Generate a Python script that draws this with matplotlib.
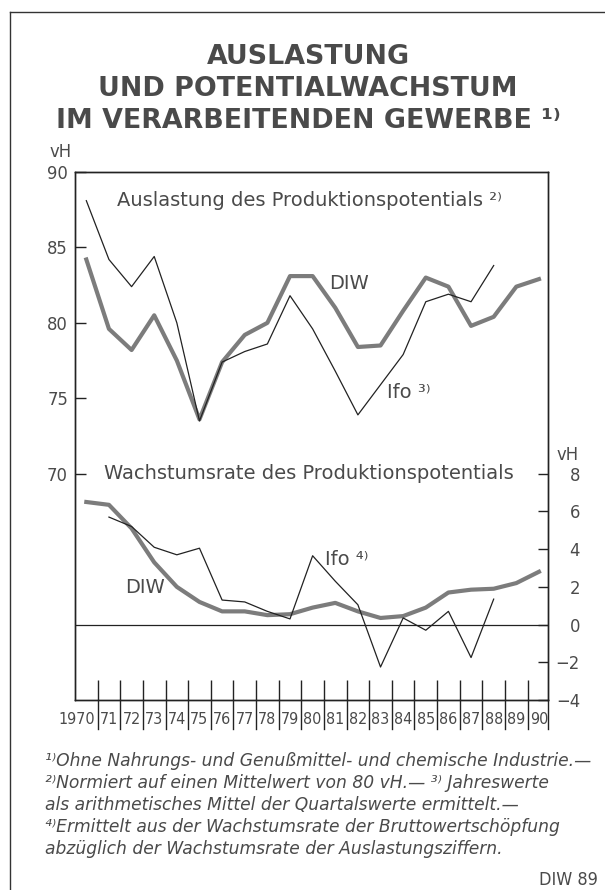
import os
import matplotlib
matplotlib.use('Agg')
import matplotlib.pyplot as plt
from matplotlib.lines import Line2D
from matplotlib import font_manager as fm
from matplotlib.font_manager import FontProperties

plt.rcParams.update({'font.size': 12, 'font.family': ['DejaVu Sans']})

# --- data (years plotted at mid-year) ---
years = list(range(1970, 1991))
year_labels = ['1970'] + ['%02d' % (y % 100) for y in years[1:]]

# Auslastung des Produktionspotentials (vH), 1970-1990
ausl_diw = [84.2, 79.6, 78.2, 80.5, 77.5, 73.6, 77.4, 79.2, 80.0, 83.1, 83.1,
            81.0, 78.4, 78.5, 80.8, 83.0, 82.4, 79.8, 80.4, 82.4, 82.9]
# Ifo, 1970-1988
ausl_ifo = [88.1, 84.2, 82.4, 84.4, 80.0, 73.5, 77.4, 78.1, 78.6, 81.8, 79.6,
            76.8, 73.9, 75.9, 77.9, 81.4, 81.9, 81.4, 83.8]

# Wachstumsrate des Produktionspotentials (vH)
wachs_diw = [6.5, 6.35, 5.1, 3.3, 2.0, 1.2, 0.7, 0.7, 0.5, 0.55, 0.9,
             1.15, 0.7, 0.35, 0.45, 0.9, 1.7, 1.85, 1.9, 2.2, 2.8]
# Ifo, 1971-1988
wachs_ifo_years = list(range(1971, 1989))
wachs_ifo = [5.7, 5.2, 4.1, 3.7, 4.05, 1.3, 1.2, 0.7, 0.3, 3.65,
             2.3, 1.05, -2.25, 0.35, -0.3, 0.7, -1.75, 1.35]

left_ticks = [70, 75, 80, 85, 90]
right_ticks = [-4, -2, 0, 2, 4, 6, 8]

txt = '#4a4a4a'
grey = '#7c7c7c'
ink = '#222222'


# look for a narrow sans font for the numbers (DIN-like look)
def narrow_font():
    prefs = ['dejavusanscondensed.ttf', 'liberationsansnarrow-regular.ttf',
             'robotocondensed-regular.ttf', 'notosans-extracondensed.ttf',
             'notosans-condensed.ttf', 'opensans_condensed-regular.ttf']
    found = {os.path.basename(f.fname).lower(): f.fname for f in fm.fontManager.ttflist}
    for p in prefs:
        if p in found:
            return FontProperties(fname=found[p])
    for name, path in found.items():
        if ('condensed' in name or 'narrow' in name) and 'bold' not in name \
                and 'italic' not in name and 'oblique' not in name and 'light' not in name:
            return FontProperties(fname=path)
    return FontProperties(family='DejaVu Sans')


nfont = narrow_font()

fig = plt.figure(figsize=(6.05, 8.9), dpi=100)
W, H = 605.0, 890.0
renderer = fig.canvas.get_renderer()

# size the numbers from the width of a two-digit string
probe = fig.text(0, 0, '88', fontproperties=nfont, fontsize=10)
pw = probe.get_window_extent(renderer).width
probe.remove()
xsize = min(15.0, 10 * 18.5 / pw)
ysize = min(15.0, 10 * 21.0 / pw)

# outer frame
fig.add_artist(Line2D([10 / W, 10 / W], [0, 1 - 12 / H], color='#333', lw=1.0))
fig.add_artist(Line2D([10 / W, 1], [1 - 12 / H, 1 - 12 / H], color='#333', lw=1.0))

# title
title_lines = ['AUSLASTUNG', 'UND POTENTIALWACHSTUM', 'IM VERARBEITENDEN GEWERBE \u00b9\u207e']
for i, t in enumerate(title_lines):
    fig.text(308 / W, 1 - (57 + 32 * i) / H, t, ha='center', va='center',
             fontsize=19.4, fontweight='bold', color=txt)

ax = fig.add_axes([75 / W, 1 - 700 / H, 473 / W, 528 / H])
ax2 = ax.twinx()

mid = lambda ys: [y + 0.5 for y in ys]

ax.plot(mid(years), ausl_diw, color=grey, lw=3.0, zorder=3)
ax.plot(mid(years[:len(ausl_ifo)]), ausl_ifo, color=ink, lw=0.9, zorder=4)
ax2.plot(mid(years), wachs_diw, color=grey, lw=3.0, zorder=3)
ax2.plot(mid(wachs_ifo_years), wachs_ifo, color=ink, lw=0.9, zorder=4)
ax2.axhline(0, color=ink, lw=0.9)

ax.set_xlim(1970, 1990.9)
ax.set_ylim(55, 90)
ax2.set_ylim(-4, 24)

for a in (ax, ax2):
    for s in a.spines.values():
        s.set_color(ink)
        s.set_linewidth(1.0)

ax.set_yticks(left_ticks)
ax.set_yticklabels([str(v) for v in left_ticks], fontproperties=nfont, fontsize=ysize, color=txt)
ax.tick_params(axis='y', direction='in', length=8, width=1.0, pad=5, color=ink)
ax2.set_yticks(right_ticks)
ax2.set_yticklabels([str(v).replace('-', '\u2212') for v in right_ticks],
                    fontproperties=nfont, fontsize=ysize, color=txt)
ax2.tick_params(axis='y', direction='in', length=7, width=1.0, pad=23, color=ink)
for lbl in ax2.get_yticklabels():
    lbl.set_horizontalalignment('right')

# year ticks: inward above the axis, separators below through the labels
edges = years[1:]
ax.set_xticks(edges)
ax.set_xticklabels([])
ax.tick_params(axis='x', which='major', direction='in', length=14.5, width=1.0, color=ink)
xt = ax.get_xaxis_transform()
for e in edges + [ax.get_xlim()[1]]:
    fig.add_artist(Line2D([e, e], [-29 / 528, 0], transform=xt, color=ink, lw=1.0, zorder=5))

for y, lab in zip(years, year_labels):
    if y == 1970:
        ax.text(y + 0.9, -20 / 528, lab, transform=xt, ha='right', va='center',
                fontproperties=nfont, fontsize=xsize, color=txt)
    else:
        ax.text(y + 0.5, -20 / 528, lab, transform=xt, ha='center', va='center',
                fontproperties=nfont, fontsize=xsize, color=txt)

# axis units
fig.text(72 / W, 1 - 152 / H, 'vH', ha='right', va='center', fontproperties=nfont,
         fontsize=ysize, color=txt)
fig.text(579 / W, 1 - 455 / H, 'vH', ha='right', va='center', fontproperties=nfont,
         fontsize=ysize, color=txt)

# in-chart labels
ax.text(1971.85, 88.1, 'Auslastung des Produktionspotentials \u00b2\u207e', ha='left', va='center',
        fontsize=14, color=txt)
ax.text(1971.3, 70.0, 'Wachstumsrate des Produktionspotentials', ha='left', va='center',
        fontsize=14, color=txt)
ax.text(1982.1, 82.6, 'DIW', ha='center', va='center', fontsize=14, color=txt)
ax.text(1983.8, 75.4, 'Ifo \u00b3\u207e', ha='left', va='center', fontsize=14, color=txt)
ax2.text(1981.05, 3.45, 'Ifo \u2074\u207e', ha='left', va='center', fontsize=14, color=txt)
ax2.text(1973.1, 1.95, 'DIW', ha='center', va='center', fontsize=14, color=txt)

# footnotes
notes = ['\u00b9\u207eOhne Nahrungs- und Genu\u00dfmittel- und chemische Industrie.\u2014',
         '\u00b2\u207eNormiert auf einen Mittelwert von 80 vH.\u2014 \u00b3\u207e Jahreswerte',
         'als arithmetisches Mittel der Quartalswerte ermittelt.\u2014',
         '\u2074\u207eErmittelt aus der Wachstumsrate der Bruttowertsch\u00f6pfung',
         'abz\u00fcglich der Wachstumsrate der Auslastungsziffern.']
for i, t in enumerate(notes):
    fig.text(45 / W, 1 - (761 + 22 * i) / H, t, ha='left', va='center',
             fontsize=12.3, style='italic', color=txt)

fig.text(598 / W, 1 - 880 / H, 'DIW 89', ha='right', va='center', fontproperties=nfont,
         fontsize=13, color=txt)

fig.savefig('out.png', dpi=100)
